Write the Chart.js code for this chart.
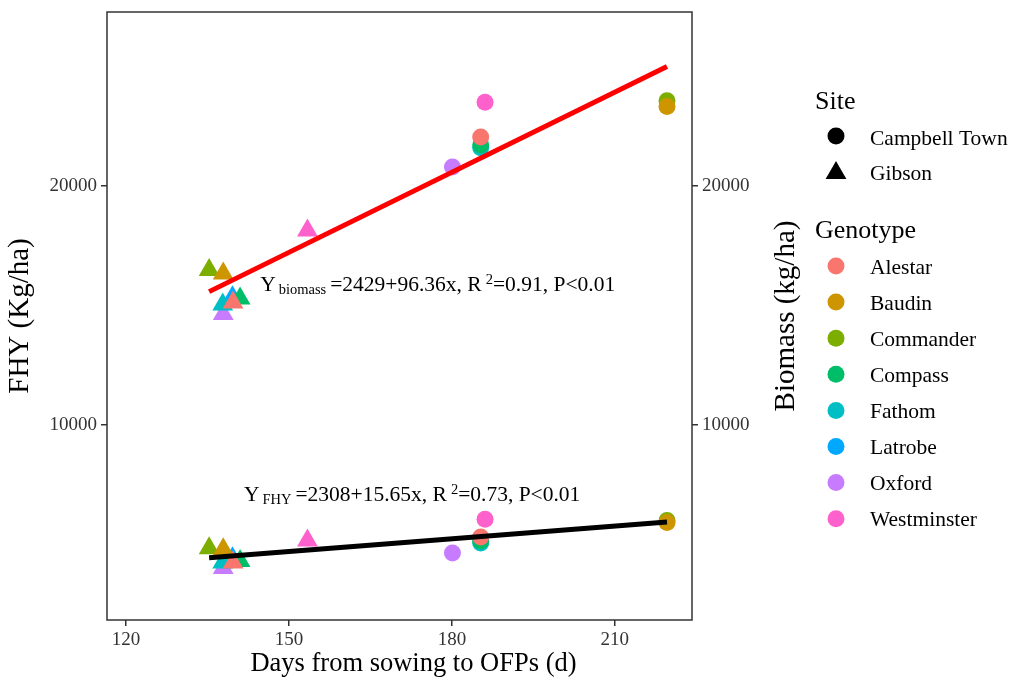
<!DOCTYPE html>
<html><head><meta charset="utf-8">
<script src="https://cdn.jsdelivr.net/npm/chart.js@4/dist/chart.umd.min.js"></script>
<style>html,body{margin:0;padding:0;background:#fff;} #wrap{position:relative;width:1014px;height:682px;}</style>
</head><body><div id="wrap"><canvas id="c" width="1014" height="682"></canvas></div>
<script>
// ---------- data ----------
const genotypes = ['Alestar','Baudin','Commander','Compass','Fathom','Latrobe','Oxford','Westminster'];
const genotypeColors = ['#F8766D','#CD9600','#7CAE00','#00BE67','#00BFC4','#00A9FF','#C77CFF','#FF61CC'];
const sites = ['Campbell Town','Gibson'];
// Gibson (triangles)
const gibsonDays    = [139.7, 137.9, 135.3, 141.0, 137.8, 139.6, 137.9, 153.4];
const gibsonBiomass = [15130, 16340, 16480, 15290, 15040, 15340, 14640, 18140];
const gibsonFHY     = [4250, 4800, 4840, 4310, 4250, 4420, 4020, 5170];
// Campbell Town (circles)
const campbellDays    = [185.3, 219.6, 219.6, 185.3, 185.3, null, 180.1, 186.1];
const campbellBiomass = [22050, 23330, 23570, 21720, 21600, null, 20790, 23500];
const campbellFHY     = [5310, 5920, 6000, 5150, 5060, null, 4640, 6060];
// fitted lines as drawn (start / end)
const fitDays = [135.3, 219.6];
const biomassFitLine = [15580, 25000];
const fhyFitLine = [4440, 5940];
const biomassEqParts = ['Y', 'biomass', '=2429+96.36x, R', '2', '=0.91, P<0.01'];
const fhyEqParts = ['Y', 'FHY', '=2308+15.65x, R', '2', '=0.73, P<0.01'];
const biomassEqAt = [144.7, 15590];
const fhyEqAt = [141.7, 6800];
const xTicks = [120, 150, 180, 210];
const yTicks = [10000, 20000];
const xTitle = 'Days from sowing to OFPs (d)';
const yTitle = 'FHY (Kg/ha)';
const y2Title = 'Biomass (kg/ha)';

// ---------- build ----------
const SERIF = '"Liberation Serif", "Times New Roman", serif';
const toLine = (ys) => fitDays.map((d, i) => ({x: d, y: ys[i]}));

const datasets = [
  {type:'line', label:'fitFHY', data: toLine(fhyFitLine), borderColor:'#000', borderWidth:5, pointRadius:0, showLine:true, fill:false, order:0},
  {type:'line', label:'fitBiomass', data: toLine(biomassFitLine), borderColor:'#FF0000', borderWidth:5, pointRadius:0, showLine:true, fill:false, order:0},
];
genotypes.forEach((g, i) => {
  if (campbellDays[i] !== null) {
    datasets.push({label: g + ' Campbell Town', data: [{x: campbellDays[i], y: campbellBiomass[i]}, {x: campbellDays[i], y: campbellFHY[i]}],
      pointStyle:'circle', pointRadius:8.5, backgroundColor: genotypeColors[i], borderWidth:0, order:1});
  }
});
genotypes.forEach((g, i) => {
  datasets.push({label: g + ' Gibson', data: [{x: gibsonDays[i], y: gibsonBiomass[i]}, {x: gibsonDays[i], y: gibsonFHY[i]}],
    pointStyle:'triangle', pointRadius:12, backgroundColor: genotypeColors[i], borderWidth:0, order:1});
});

const tickGrid = {display:true, drawOnChartArea:false, drawTicks:true, tickLength:6, color:'#333', lineWidth:1.5};
const tickFont = {family: SERIF, size: 19};
const fmt = (v) => String(v);
const noPad = (s) => { s.paddingTop = 0; s.paddingBottom = 0; s.paddingLeft = 0; s.paddingRight = 0; };

const decor = {
  id:'decor',
  afterDatasetsDraw(chart) {
    const ctx = chart.ctx, a = chart.chartArea, sx = chart.scales.x, sy = chart.scales.y;
    ctx.save();
    ctx.strokeStyle = '#333'; ctx.lineWidth = 1.5;
    ctx.strokeRect(a.left, a.top, a.right - a.left, a.bottom - a.top);
    const drawEq = (parts, at) => {
      let x = sx.getPixelForValue(at[0]);
      const y = sy.getPixelForValue(at[1]);
      ctx.fillStyle = '#000'; ctx.textAlign = 'left'; ctx.textBaseline = 'alphabetic';
      ctx.font = '21.5px ' + SERIF; ctx.fillText(parts[0], x, y); x += ctx.measureText(parts[0]).width + 3;
      ctx.font = '14.5px ' + SERIF; ctx.fillText(parts[1], x, y + 3); x += ctx.measureText(parts[1]).width + 4;
      ctx.font = '21.5px ' + SERIF; ctx.fillText(parts[2], x, y); x += ctx.measureText(parts[2]).width + 4;
      ctx.font = '14.5px ' + SERIF; ctx.fillText(parts[3], x, y - 7); x += ctx.measureText(parts[3]).width;
      ctx.font = '21.5px ' + SERIF; ctx.fillText(parts[4], x, y);
    };
    drawEq(biomassEqParts, biomassEqAt);
    drawEq(fhyEqParts, fhyEqAt);
    ctx.restore();
  },
  afterDraw(chart) {
    const ctx = chart.ctx, a = chart.chartArea;
    ctx.save();
    ctx.fillStyle = '#000';
    ctx.textAlign = 'center'; ctx.textBaseline = 'middle';
    ctx.font = '26.5px ' + SERIF;
    ctx.fillText(xTitle, (a.left + a.right)/2 + 14, 664);
    ctx.font = '29px ' + SERIF;
    ctx.save(); ctx.translate(20, (a.top + a.bottom)/2); ctx.rotate(-Math.PI/2); ctx.fillText(yTitle, 0, 0); ctx.restore();
    ctx.save(); ctx.translate(786, (a.top + a.bottom)/2); ctx.rotate(-Math.PI/2); ctx.fillText(y2Title, 0, 0); ctx.restore();
    // legend
    const lx = 815, kx = 836, tx = 870;
    ctx.textAlign = 'left'; ctx.textBaseline = 'alphabetic';
    ctx.font = '26px ' + SERIF; ctx.fillText('Site', lx, 109);
    ctx.font = '21.5px ' + SERIF; ctx.textBaseline = 'middle';
    ctx.beginPath(); ctx.arc(kx, 136, 8.5, 0, Math.PI*2); ctx.fill();
    ctx.fillText(sites[0], tx, 139);
    const r = 12, cy = 173;
    ctx.beginPath(); ctx.moveTo(kx, cy - r); ctx.lineTo(kx + r*Math.sin(2*Math.PI/3), cy - r*Math.cos(2*Math.PI/3));
    ctx.lineTo(kx - r*Math.sin(2*Math.PI/3), cy - r*Math.cos(2*Math.PI/3)); ctx.closePath(); ctx.fill();
    ctx.fillText(sites[1], tx, 174);
    ctx.textBaseline = 'alphabetic'; ctx.font = '26px ' + SERIF; ctx.fillText('Genotype', lx, 238);
    ctx.font = '21.5px ' + SERIF; ctx.textBaseline = 'middle';
    genotypes.forEach((g, i) => {
      const y = 266 + i*36.1;
      ctx.fillStyle = genotypeColors[i];
      ctx.beginPath(); ctx.arc(kx, y, 8.5, 0, Math.PI*2); ctx.fill();
      ctx.fillStyle = '#000'; ctx.fillText(g, tx, y + 2);
    });
    ctx.restore();
  }
};

new Chart(document.getElementById('c'), {
  type:'scatter',
  data:{datasets},
  options:{
    responsive:false, animation:false, devicePixelRatio:1,
    layout:{padding:{left:0, right:212, top:12, bottom:0}},
    plugins:{legend:{display:false}, tooltip:{enabled:false}},
    scales:{
      x:{type:'linear', min:116.5, max:224.2, border:{display:false}, grid:tickGrid,
         ticks:{font:tickFont, color:'#333', padding:3, callback:fmt},
         afterBuildTicks:(s)=>{ s.ticks = xTicks.map(v=>({value:v})); },
         afterFit:(s)=>{ s.height = 62; noPad(s); }},
      y:{type:'linear', position:'left', min:1840, max:27280, border:{display:false}, grid:tickGrid,
         ticks:{font:tickFont, color:'#333', padding:4, callback:fmt},
         afterBuildTicks:(s)=>{ s.ticks = yTicks.map(v=>({value:v})); },
         afterFit:(s)=>{ s.width = 107; noPad(s); }},
      y2:{type:'linear', position:'right', min:1840, max:27280, border:{display:false}, grid:tickGrid,
         ticks:{font:tickFont, color:'#333', padding:4, callback:fmt},
         afterBuildTicks:(s)=>{ s.ticks = yTicks.map(v=>({value:v})); },
         afterFit:(s)=>{ s.width = 110; noPad(s); }}
    }
  },
  plugins:[decor]
});
</script></body></html>
